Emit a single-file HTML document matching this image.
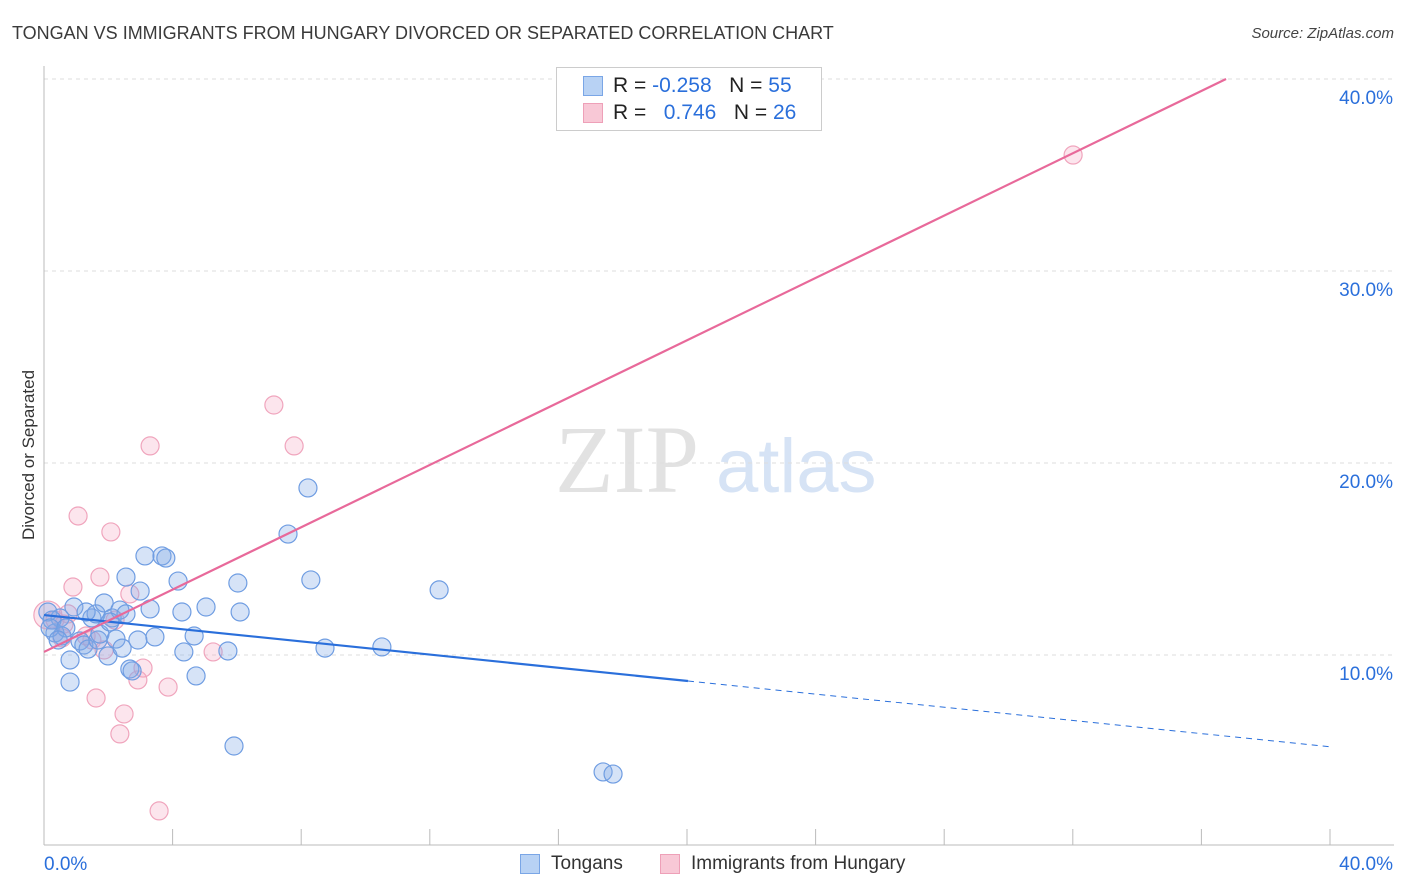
<!DOCTYPE html>
<html><head><meta charset="utf-8"><style>
body{margin:0;background:#fff;font-family:"Liberation Sans",sans-serif}
#c{position:relative;width:1406px;height:892px;overflow:hidden}
.t{position:absolute;white-space:nowrap}
</style></head><body>
<div id="c">
<div class="t" style="left:12px;top:23px;font-size:18px;color:#3a3a3a">TONGAN VS IMMIGRANTS FROM HUNGARY DIVORCED OR SEPARATED CORRELATION CHART</div>
<div class="t" style="right:12px;top:25px;font-size:15px;color:#444;font-style:italic">Source: ZipAtlas.com</div>
<svg id="s" width="1406" height="892" style="position:absolute;left:0;top:0">
<text x="555" y="492" font-family="Liberation Serif,serif" font-size="96" fill="#e2e2e2">ZIP</text>
<text x="716" y="492" font-family="Liberation Sans,sans-serif" font-size="76" fill="#d6e3f5">atlas</text>
<text transform="translate(34,455) rotate(-90)" text-anchor="middle" font-size="17" fill="#333">Divorced or Separated</text>
</svg>
<div class="t" style="left:556px;top:67px;width:264px;height:62px;border:1px solid #ccc;background:#fff"></div>
<div class="t" style="left:583px;top:76px;width:18px;height:18px;background:#b8d2f4;border:1px solid #7aa6e6"></div>
<div class="t" style="left:613px;top:74px;font-size:21px;color:#222">R = <span style="color:#2a6fdb">-0.258</span>&nbsp;&nbsp;&nbsp;N = <span style="color:#2a6fdb">55</span></div>
<div class="t" style="left:583px;top:103px;width:18px;height:18px;background:#f8c8d6;border:1px solid #eea0b8"></div>
<div class="t" style="left:613px;top:101px;font-size:21px;color:#222">R = &nbsp;&nbsp;<span style="color:#2a6fdb">0.746</span>&nbsp;&nbsp;&nbsp;N = <span style="color:#2a6fdb">26</span></div>
<div class="t" style="left:520px;top:854px;width:18px;height:18px;background:#b8d2f4;border:1px solid #7aa6e6"></div>
<div class="t" style="left:551px;top:853px;font-size:19px;color:#333">Tongans</div>
<div class="t" style="left:660px;top:854px;width:18px;height:18px;background:#f8c8d6;border:1px solid #eea0b8"></div>
<div class="t" style="left:691px;top:853px;font-size:19px;color:#333">Immigrants from Hungary</div>
</div>
<script>
const yTicks=[10,20,30,40];
const yTickLabels=["10.0%","20.0%","30.0%","40.0%"];
const xTickLabels=["0.0%","40.0%"];
const blueX=[0.12,0.34,0.50,0.25,0.56,0.81,0.81,0.93,1.12,1.24,1.37,1.49,1.62,1.68,1.74,1.87,1.99,2.12,2.24,2.36,2.43,2.55,2.55,2.67,2.74,2.99,3.14,3.30,3.45,3.67,3.79,4.17,4.29,4.35,4.67,4.73,5.04,5.72,5.91,6.03,6.10,7.59,8.21,8.30,8.74,10.51,12.29,17.39,17.70,0.19,0.68,1.31,2.05,2.92,0.44];
const blueY=[12.24,11.15,11.93,11.82,10.99,9.74,8.59,12.50,10.73,10.52,10.31,11.93,12.14,10.78,11.09,12.71,9.95,11.93,10.83,12.34,10.36,12.14,14.06,9.27,9.17,13.33,15.16,12.40,10.94,15.16,15.05,13.85,12.24,10.16,10.99,8.91,12.50,10.21,5.26,13.75,12.24,16.30,18.70,13.91,10.36,10.42,13.39,3.91,3.80,11.41,11.41,12.24,11.72,10.78,10.78];
const pinkX=[0.12,0.34,0.56,0.75,0.90,1.06,1.49,1.62,1.74,1.87,2.08,2.21,2.49,2.36,2.67,2.92,3.08,3.30,3.58,3.86,5.26,7.15,7.78,32.01,1.31,0.62];
const pinkY=[12.08,11.82,10.89,12.14,13.54,17.24,10.78,7.76,14.06,10.26,16.41,11.82,6.93,5.89,13.18,8.70,9.32,20.89,1.88,8.33,10.16,23.02,20.89,36.04,10.99,11.61];
const blueTrend=[12.08,-0.1715];
const pinkTrend=[10.16,0.8116];
const X=v=>44+v*32.15, Y=v=>847-v*19.2;
const s=document.getElementById('s'),NS='http://www.w3.org/2000/svg';
function mk(t,a){const e=document.createElementNS(NS,t);for(const k in a)e.setAttribute(k,a[k]);s.appendChild(e);return e;}
yTicks.forEach((v,i)=>{
 const g=mk('line',{x1:44,x2:1394,y1:Y(v),y2:Y(v),stroke:'#ddd','stroke-dasharray':'4,4'});
 
 
 const t=mk('text',{x:1393,y:Y(v)+25,'text-anchor':'end','font-size':19,fill:'#2a6fdb'});t.textContent=yTickLabels[i];
 
 
});
let a=mk('line',{x1:44,x2:44,y1:66,y2:845,stroke:'#bbb'});


a=mk('line',{x1:44,x2:1394,y1:845,y2:845,stroke:'#bbb'});


for(let i=0;i<=10;i++){const l=mk('line',{x1:X(i*4),x2:X(i*4),y1:829,y2:845,stroke:'#bbb'});
 
 }
[[0,'start'],[40,'end']].forEach((d,i)=>{const t=mk('text',{x:i?1393:44,y:870,'text-anchor':d[1],'font-size':19,fill:'#2a6fdb'});t.textContent=xTickLabels[i];
 
 });
pinkX.forEach((x,i)=>{const c=mk('circle',{cx:X(x),cy:Y(pinkY[i]),r:i==0?14:9,fill:'rgba(244,170,195,0.3)',stroke:'#f0a5bd','stroke-width':1.2});
 
 });
blueX.forEach((x,i)=>{const c=mk('circle',{cx:X(x),cy:Y(blueY[i]),r:9,fill:'rgba(130,170,230,0.33)',stroke:'#6f9de2','stroke-width':1.2});
 
 });
let L=mk('line',{x1:X(0),y1:Y(blueTrend[0]),x2:X(20.03),y2:Y(blueTrend[0]+blueTrend[1]*20.03),stroke:'#2a6fdb','stroke-width':2.2});


L=mk('line',{x1:X(20.03),y1:Y(blueTrend[0]+blueTrend[1]*20.03),x2:X(40),y2:Y(blueTrend[0]+blueTrend[1]*40),stroke:'#2a6fdb','stroke-width':1,'stroke-dasharray':'6,5'});


const pe=(40-pinkTrend[0])/pinkTrend[1];
L=mk('line',{x1:X(0),y1:Y(pinkTrend[0]),x2:X(pe),y2:Y(40),stroke:'#e8699a','stroke-width':2.2});


</script>
</body></html>
